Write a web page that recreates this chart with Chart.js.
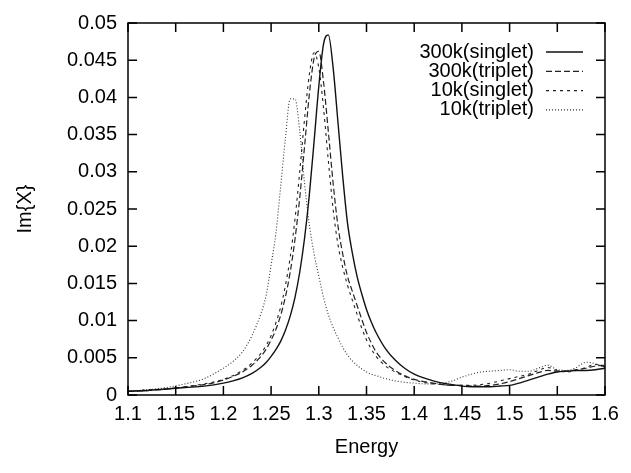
<!DOCTYPE html>
<html>
<head>
<meta charset="utf-8">
<script src="https://cdn.jsdelivr.net/npm/chart.js@4.4.0/dist/chart.umd.min.js"></script>
<style>
  body { margin: 0; background: #fff; }
  #wrap { width: 631px; height: 473px; }
</style>
</head>
<body>
<div id="wrap"><canvas id="chart" width="631" height="473"></canvas></div>
<script>
// energy grid (x values)
const energy = [1.10, 1.12, 1.14, 1.16, 1.18, 1.20, 1.21, 1.22, 1.23, 1.24,
    1.245, 1.25, 1.255, 1.26, 1.265, 1.27, 1.275, 1.28, 1.285, 1.29, 1.295,
    1.30, 1.305, 1.31, 1.315, 1.32, 1.325, 1.33, 1.335, 1.34, 1.345, 1.35, 1.355,
    1.36, 1.37, 1.38, 1.39, 1.40, 1.41, 1.42, 1.43, 1.44, 1.45, 1.46, 1.47,
    1.48, 1.49, 1.50, 1.51, 1.52, 1.53, 1.54, 1.55, 1.56, 1.57, 1.58, 1.59, 1.60];

const singlet300 = [0.0005, 0.0006, 0.0008, 0.0010, 0.0012, 0.0016, 0.0019, 0.0023, 0.0029, 0.0038,
    0.0044, 0.0052, 0.0061, 0.0072, 0.0087, 0.0106, 0.0131, 0.0165, 0.0210, 0.0268, 0.0340,
    0.0415, 0.0472, 0.0484, 0.0440, 0.0368, 0.0295, 0.0232, 0.0192, 0.0160, 0.0136, 0.0115, 0.0098,
    0.0084, 0.0062, 0.0047, 0.0036, 0.0028, 0.0023, 0.0019, 0.0016, 0.0014, 0.0012, 0.0011, 0.0011,
    0.0011, 0.0012, 0.0013, 0.0016, 0.0020, 0.0024, 0.0028, 0.0031, 0.0032, 0.0033, 0.0033, 0.0034, 0.0036];

const triplet300 = [0.0005, 0.0006, 0.0008, 0.0011, 0.0014, 0.0020, 0.0025, 0.0031, 0.0040, 0.0053,
    0.0062, 0.0074, 0.0088, 0.0107, 0.0132, 0.0165, 0.0209, 0.0265, 0.0333, 0.0403, 0.0452,
    0.0462, 0.0420, 0.0354, 0.0285, 0.0228, 0.0190, 0.0160, 0.0140, 0.0121, 0.0102, 0.0084, 0.0070,
    0.0058, 0.0043, 0.0033, 0.0026, 0.0021, 0.0018, 0.0016, 0.0014, 0.0013, 0.0013, 0.0012, 0.0012,
    0.0013, 0.0015, 0.0018, 0.0022, 0.0026, 0.0030, 0.0033, 0.0032, 0.0032, 0.0034, 0.0036, 0.0039, 0.0040];

const singlet10 = [0.0005, 0.0007, 0.0008, 0.0011, 0.0015, 0.0021, 0.0026, 0.0033, 0.0043, 0.0057,
    0.0067, 0.0080, 0.0097, 0.0118, 0.0147, 0.0185, 0.0236, 0.0300, 0.0370, 0.0430, 0.0460,
    0.0440, 0.0385, 0.0315, 0.0250, 0.0203, 0.0172, 0.0148, 0.0128, 0.0109, 0.0090, 0.0074, 0.0062,
    0.0052, 0.0039, 0.0031, 0.0025, 0.0020, 0.0017, 0.0015, 0.0014, 0.0013, 0.0013, 0.0013, 0.0014,
    0.0016, 0.0019, 0.0022, 0.0025, 0.0028, 0.0033, 0.0037, 0.0033, 0.0031, 0.0033, 0.0037, 0.0041, 0.0038];

const triplet10 = [0.0005, 0.0007, 0.0010, 0.0015, 0.0022, 0.0036, 0.0045, 0.0058, 0.0080, 0.0112,
    0.0135, 0.0175, 0.0217, 0.0280, 0.0345, 0.0398, 0.0398, 0.0355, 0.0285, 0.0230, 0.0190,
    0.0160, 0.0131, 0.0108, 0.0091, 0.0077, 0.0064, 0.0054, 0.0046, 0.0040, 0.0035, 0.0031, 0.0028,
    0.0026, 0.0022, 0.0019, 0.0017, 0.0016, 0.0015, 0.0015, 0.0016, 0.0019, 0.0024, 0.0028, 0.0031,
    0.0032, 0.0033, 0.0034, 0.0032, 0.0032, 0.0036, 0.0040, 0.0034, 0.0033, 0.0037, 0.0044, 0.0042, 0.0036];

const seriesNames = ['300k(singlet)', '300k(triplet)', '10k(singlet)', '10k(triplet)'];
const xTicks = ['1.1', '1.15', '1.2', '1.25', '1.3', '1.35', '1.4', '1.45', '1.5', '1.55', '1.6'];
const yTicks = ['0', '0.005', '0.01', '0.015', '0.02', '0.025', '0.03', '0.035', '0.04', '0.045', '0.05'];

const FONT = "'Liberation Sans', Arial, Helvetica, sans-serif";

function points(ys) {
    return energy.map((e, i) => ({ x: e, y: ys[i] }));
}

const styles = [
    { color: '#111', width: 1.4, dash: [] },
    { color: '#222', width: 1.2, dash: [6, 3] },
    { color: '#222', width: 1.1, dash: [3, 4] },
    { color: '#333', width: 1.1, dash: [1, 2] }
];
const allSeries = [singlet300, triplet300, singlet10, triplet10];

// box, inward ticks on all sides and the legend, the gnuplot way
const framePlugin = {
    id: 'frame',
    afterDatasetsDraw(chart) {
        const ctx = chart.ctx;
        const a = chart.chartArea;
        const xs = chart.scales.x, ys = chart.scales.y;
        ctx.save();
        ctx.strokeStyle = '#000';
        ctx.lineWidth = 1.5;
        ctx.setLineDash([]);
        ctx.strokeRect(a.left, a.top, a.right - a.left, a.bottom - a.top);
        ctx.beginPath();
        xs.ticks.forEach(t => {
            const px = xs.getPixelForValue(t.value);
            ctx.moveTo(px, a.bottom); ctx.lineTo(px, a.bottom - 9);
            ctx.moveTo(px, a.top); ctx.lineTo(px, a.top + 9);
        });
        ys.ticks.forEach(t => {
            const py = ys.getPixelForValue(t.value);
            ctx.moveTo(a.left, py); ctx.lineTo(a.left + 9, py);
            ctx.moveTo(a.right, py); ctx.lineTo(a.right - 9, py);
        });
        ctx.stroke();

        // legend
        ctx.font = '20px ' + FONT;
        ctx.fillStyle = '#000';
        ctx.textAlign = 'right';
        ctx.textBaseline = 'middle';
        seriesNames.forEach((name, i) => {
            const yy = a.top + 29 + i * 19.3;
            ctx.fillText(name, a.right - 71, yy);
            ctx.strokeStyle = styles[i].color;
            ctx.lineWidth = styles[i].width;
            ctx.setLineDash(styles[i].dash);
            ctx.beginPath();
            ctx.moveTo(a.right - 59, yy);
            ctx.lineTo(a.right - 22, yy);
            ctx.stroke();
        });
        ctx.restore();
    }
};

const ctx = document.getElementById('chart').getContext('2d');
const chart = new Chart(ctx, {
    type: 'line',
    data: {
        datasets: allSeries.map((s, i) => ({
            label: seriesNames[i],
            data: points(s),
            borderColor: styles[i].color,
            borderWidth: styles[i].width,
            borderDash: styles[i].dash,
            pointRadius: 0,
            fill: false,
            cubicInterpolationMode: 'monotone'
        }))
    },
    options: {
        responsive: false,
        animation: false,
        devicePixelRatio: 1,
        layout: { padding: { top: 15, right: 26, bottom: 0, left: 0 } },
        plugins: { legend: { display: false }, tooltip: { enabled: false } },
        scales: {
            x: {
                type: 'linear',
                min: 1.1,
                max: 1.6,
                grid: { display: false, drawTicks: false },
                border: { display: false },
                ticks: {
                    stepSize: 0.05,
                    padding: 7,
                    color: '#000',
                    font: { family: FONT, size: 20 },
                    maxRotation: 0,
                    callback: (v, i) => xTicks[i]
                },
                title: {
                    display: true,
                    text: 'Energy',
                    color: '#000',
                    font: { family: FONT, size: 20 },
                    padding: { top: 4, bottom: 14 }
                },
                afterFit: s => { s.height = 78; }
            },
            y: {
                min: 0,
                max: 0.05,
                grid: { display: false, drawTicks: false },
                border: { display: false },
                ticks: {
                    stepSize: 0.005,
                    padding: 11,
                    color: '#000',
                    font: { family: FONT, size: 20 },
                    callback: (v, i) => yTicks[i]
                },
                title: {
                    display: true,
                    text: 'Im{X}',
                    color: '#000',
                    font: { family: FONT, size: 20 },
                    padding: { top: 13, bottom: 4 }
                },
                afterFit: s => { s.width = 128; }
            }
        }
    },
    plugins: [framePlugin]
});
</script>
</body>
</html>
